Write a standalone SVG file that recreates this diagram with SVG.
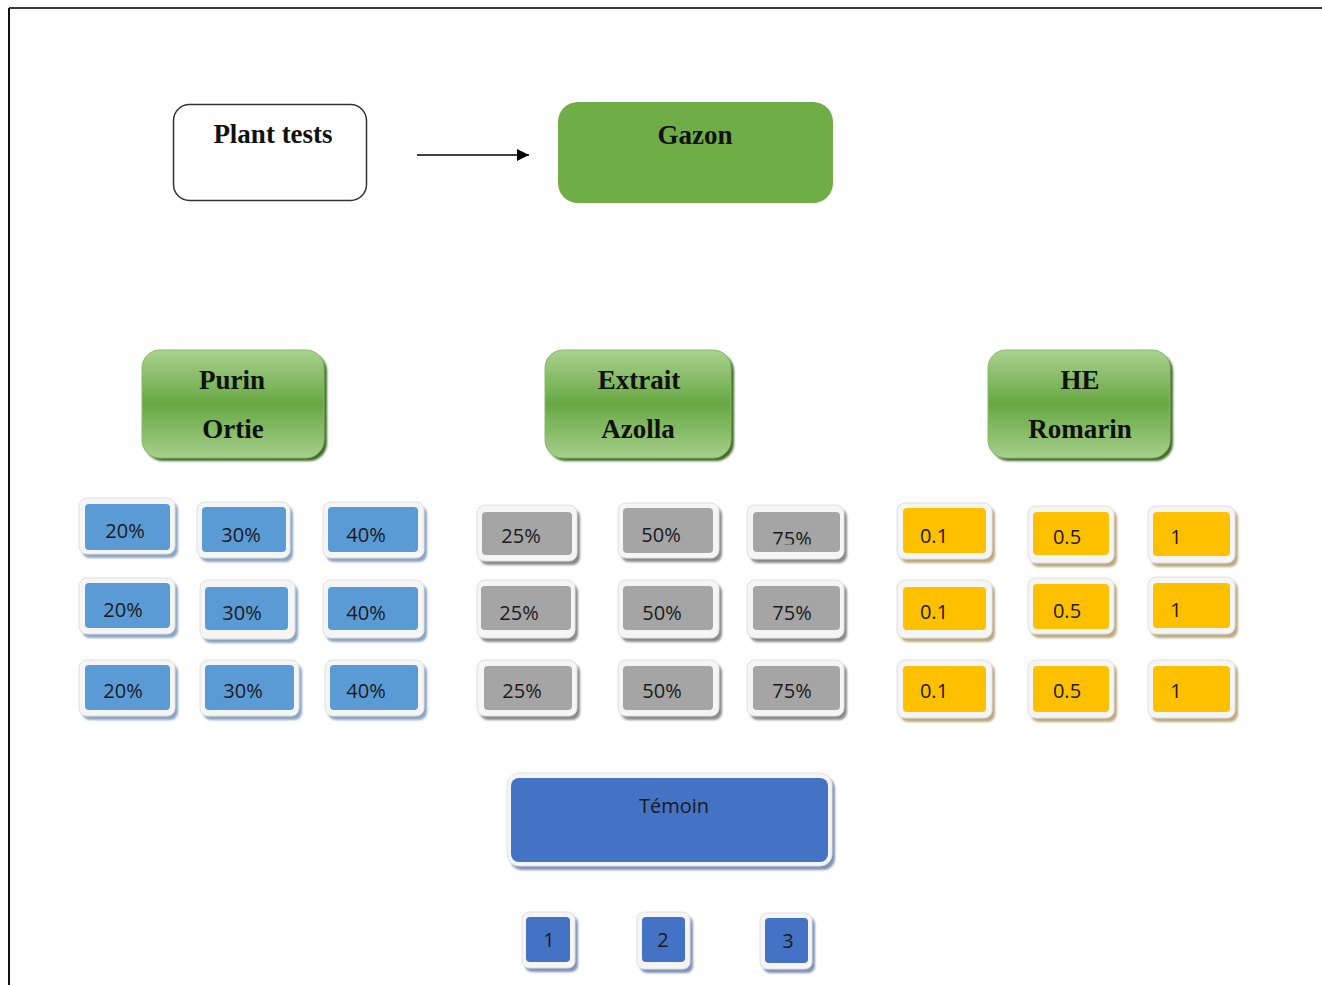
<svg xmlns="http://www.w3.org/2000/svg" width="1322" height="985" viewBox="0 0 1322 985">
<style>
.hdr{font-family:"Liberation Serif","Times New Roman",serif;font-weight:bold;font-size:27px;fill:#111;text-anchor:middle}
.lbl{font-family:"Open Sans","Liberation Sans",sans-serif;font-size:20px;fill:#1a1a1a;text-anchor:middle}
.frame{fill:#f5f5f5;stroke:#e0e0e0;stroke-width:1}
.sh{filter:url(#blur)}
.blue{fill:#5B9BD5}.shb{fill:#8aa4c2}
.grey{fill:#A5A5A5}.shg{fill:#8a8a8a}
.yel{fill:#FFC000}.shy{fill:#bcaa80}
.dblue{fill:#4472C4}.shd{fill:#8193b6}
.green{fill:url(#gg);stroke:#86bb66;stroke-width:1}
.gsh{fill:#3f6a2a}
</style>
<defs>
<linearGradient id="gg" x1="0" y1="0" x2="0" y2="1">
<stop offset="0" stop-color="#a9d28f"/>
<stop offset="0.5" stop-color="#68a843"/>
<stop offset="1" stop-color="#a6cf8b"/>
</linearGradient>
<filter id="blur" x="-10%" y="-10%" width="120%" height="130%"><feGaussianBlur stdDeviation="1"/></filter>
<marker id="arr" viewBox="0 0 10 10" refX="10" refY="5" markerWidth="12" markerHeight="12" markerUnits="userSpaceOnUse" orient="auto"><path d="M0,0 L10,5 L0,10 z" fill="#000"/></marker>
<clipPath id="clip75"><rect x="747" y="500" width="100" height="44.5"/></clipPath>
</defs>
<rect x="0" y="0" width="1322" height="985" fill="#fff"/>
<line x1="9" y1="8" x2="1322" y2="8" stroke="#3a3a3a" stroke-width="2"/>
<line x1="9" y1="8" x2="9" y2="985" stroke="#111" stroke-width="2"/>

<g id="connectors">
<line x1="417" y1="155" x2="529" y2="155" stroke="#000" stroke-width="1.5" marker-end="url(#arr)"/>
</g>

<g id="plant-tests">
<rect x="173.5" y="104.5" width="193" height="96" rx="16" fill="#fff" stroke="#333" stroke-width="1.5"/>
<text class="hdr" x="273" y="143">Plant tests</text>
</g>
<g id="gazon">
<rect x="558" y="102" width="275" height="101" rx="20" fill="#70AD47"/>
<text class="hdr" x="695" y="144">Gazon</text>
</g>

<g id="purin-ortie">
<rect class="gsh sh" x="145" y="353" width="182" height="108" rx="18"/>
<rect class="green" x="142" y="350" width="182" height="108" rx="18"/>
<text class="hdr" x="232" y="389">Purin</text>
<text class="hdr" x="233" y="438">Ortie</text>
</g>
<g id="extrait-azolla">
<rect class="gsh sh" x="548" y="353" width="186" height="108" rx="18"/>
<rect class="green" x="545" y="350" width="186" height="108" rx="18"/>
<text class="hdr" x="639" y="389">Extrait</text>
<text class="hdr" x="638" y="438">Azolla</text>
</g>
<g id="he-romarin">
<rect class="gsh sh" x="991" y="353" width="182" height="108" rx="18"/>
<rect class="green" x="988" y="350" width="182" height="108" rx="18"/>
<text class="hdr" x="1080" y="389">HE</text>
<text class="hdr" x="1080" y="438">Romarin</text>
</g>

<!-- Blue boxes -->
<g id="b11"><rect class="shb sh" x="82" y="502" width="96" height="56" rx="8"/><rect class="frame" x="79" y="498" width="96" height="56" rx="8"/><rect class="blue" x="85" y="504" width="85" height="46" rx="4"/><text class="lbl" x="125" y="538">20%</text></g>
<g id="b12"><rect class="shb sh" x="200" y="506" width="93" height="56" rx="8"/><rect class="frame" x="197" y="502" width="93" height="56" rx="8"/><rect class="blue" x="202" y="507" width="84" height="45" rx="4"/><text class="lbl" x="241" y="542">30%</text></g>
<g id="b13"><rect class="shb sh" x="326" y="506" width="101" height="56" rx="8"/><rect class="frame" x="323" y="502" width="101" height="56" rx="8"/><rect class="blue" x="328" y="507" width="90" height="45" rx="4"/><text class="lbl" x="366" y="542">40%</text></g>
<g id="b21"><rect class="shb sh" x="82" y="582" width="96" height="56" rx="8"/><rect class="frame" x="79" y="578" width="96" height="56" rx="8"/><rect class="blue" x="85" y="583" width="85" height="45" rx="4"/><text class="lbl" x="123" y="617">20%</text></g>
<g id="b22"><rect class="shb sh" x="203" y="584" width="95" height="59" rx="8"/><rect class="frame" x="200" y="580" width="95" height="59" rx="8"/><rect class="blue" x="205" y="587" width="83" height="43" rx="4"/><text class="lbl" x="242" y="620">30%</text></g>
<g id="b23"><rect class="shb sh" x="326" y="584" width="101" height="58" rx="8"/><rect class="frame" x="323" y="580" width="101" height="58" rx="8"/><rect class="blue" x="328" y="587" width="90" height="43" rx="4"/><text class="lbl" x="366" y="620">40%</text></g>
<g id="b31"><rect class="shb sh" x="82" y="664" width="96" height="56" rx="8"/><rect class="frame" x="79" y="660" width="96" height="56" rx="8"/><rect class="blue" x="85" y="665" width="85" height="45" rx="4"/><text class="lbl" x="123" y="698">20%</text></g>
<g id="b32"><rect class="shb sh" x="203" y="664" width="99" height="56" rx="8"/><rect class="frame" x="200" y="660" width="99" height="56" rx="8"/><rect class="blue" x="205" y="665" width="89" height="45" rx="4"/><text class="lbl" x="243" y="698">30%</text></g>
<g id="b33"><rect class="shb sh" x="328" y="664" width="99" height="56" rx="8"/><rect class="frame" x="325" y="660" width="99" height="56" rx="8"/><rect class="blue" x="330" y="665" width="88" height="45" rx="4"/><text class="lbl" x="366" y="698">40%</text></g>

<!-- Grey boxes -->
<g id="g11"><rect class="shg sh" x="480" y="509" width="100" height="56" rx="8"/><rect class="frame" x="477" y="505" width="100" height="56" rx="8"/><rect class="grey" x="482" y="512" width="90" height="43" rx="4"/><text class="lbl" x="521" y="543">25%</text></g>
<g id="g12"><rect class="shg sh" x="621" y="507" width="101" height="55" rx="8"/><rect class="frame" x="618" y="503" width="101" height="55" rx="8"/><rect class="grey" x="623" y="508" width="90" height="45" rx="4"/><text class="lbl" x="661" y="542">50%</text></g>
<g id="g13"><rect class="shg sh" x="750" y="509" width="97" height="54" rx="8"/><rect class="frame" x="747" y="505" width="97" height="54" rx="8"/><rect class="grey" x="753" y="512" width="87" height="40" rx="4"/><text class="lbl" x="792" y="546" clip-path="url(#clip75)">75%</text></g>
<g id="g21"><rect class="shg sh" x="480" y="584" width="98" height="58" rx="8"/><rect class="frame" x="477" y="580" width="98" height="58" rx="8"/><rect class="grey" x="481" y="586" width="90" height="44" rx="4"/><text class="lbl" x="519" y="620">25%</text></g>
<g id="g22"><rect class="shg sh" x="621" y="584" width="101" height="58" rx="8"/><rect class="frame" x="618" y="580" width="101" height="58" rx="8"/><rect class="grey" x="623" y="586" width="90" height="44" rx="4"/><text class="lbl" x="662" y="620">50%</text></g>
<g id="g23"><rect class="shg sh" x="750" y="584" width="97" height="58" rx="8"/><rect class="frame" x="747" y="580" width="97" height="58" rx="8"/><rect class="grey" x="753" y="586" width="87" height="44" rx="4"/><text class="lbl" x="792" y="620">75%</text></g>
<g id="g31"><rect class="shg sh" x="480" y="664" width="100" height="56" rx="8"/><rect class="frame" x="477" y="660" width="100" height="56" rx="8"/><rect class="grey" x="484" y="666" width="88" height="44" rx="4"/><text class="lbl" x="522" y="698">25%</text></g>
<g id="g32"><rect class="shg sh" x="621" y="664" width="101" height="56" rx="8"/><rect class="frame" x="618" y="660" width="101" height="56" rx="8"/><rect class="grey" x="623" y="666" width="90" height="44" rx="4"/><text class="lbl" x="662" y="698">50%</text></g>
<g id="g33"><rect class="shg sh" x="750" y="664" width="97" height="56" rx="8"/><rect class="frame" x="747" y="660" width="97" height="56" rx="8"/><rect class="grey" x="753" y="666" width="87" height="44" rx="4"/><text class="lbl" x="792" y="698">75%</text></g>

<!-- Yellow boxes -->
<g id="y11"><rect class="shy sh" x="900" y="507" width="95" height="56" rx="8"/><rect class="frame" x="897" y="503" width="95" height="56" rx="8"/><rect class="yel" x="903" y="508" width="83" height="45" rx="4"/><text class="lbl" x="934" y="543">0.1</text></g>
<g id="y12"><rect class="shy sh" x="1031" y="510" width="86" height="57" rx="8"/><rect class="frame" x="1028" y="506" width="86" height="57" rx="8"/><rect class="yel" x="1033" y="512" width="76" height="43" rx="4"/><text class="lbl" x="1067" y="544">0.5</text></g>
<g id="y13"><rect class="shy sh" x="1151" y="510" width="87" height="57" rx="8"/><rect class="frame" x="1148" y="506" width="87" height="57" rx="8"/><rect class="yel" x="1153" y="512" width="77" height="44" rx="4"/><text class="lbl" x="1176" y="544">1</text></g>
<g id="y21"><rect class="shy sh" x="900" y="584" width="95" height="58" rx="8"/><rect class="frame" x="897" y="580" width="95" height="58" rx="8"/><rect class="yel" x="903" y="587" width="83" height="43" rx="4"/><text class="lbl" x="934" y="619">0.1</text></g>
<g id="y22"><rect class="shy sh" x="1031" y="582" width="86" height="56" rx="8"/><rect class="frame" x="1028" y="578" width="86" height="56" rx="8"/><rect class="yel" x="1033" y="584" width="76" height="45" rx="4"/><text class="lbl" x="1067" y="618">0.5</text></g>
<g id="y23"><rect class="shy sh" x="1151" y="581" width="87" height="57" rx="8"/><rect class="frame" x="1148" y="577" width="87" height="57" rx="8"/><rect class="yel" x="1153" y="583" width="77" height="45" rx="4"/><text class="lbl" x="1176" y="617">1</text></g>
<g id="y31"><rect class="shy sh" x="900" y="664" width="95" height="58" rx="8"/><rect class="frame" x="897" y="660" width="95" height="58" rx="8"/><rect class="yel" x="903" y="666" width="83" height="46" rx="4"/><text class="lbl" x="934" y="698">0.1</text></g>
<g id="y32"><rect class="shy sh" x="1031" y="664" width="86" height="58" rx="8"/><rect class="frame" x="1028" y="660" width="86" height="58" rx="8"/><rect class="yel" x="1033" y="666" width="76" height="46" rx="4"/><text class="lbl" x="1067" y="698">0.5</text></g>
<g id="y33"><rect class="shy sh" x="1151" y="664" width="87" height="58" rx="8"/><rect class="frame" x="1148" y="660" width="87" height="58" rx="8"/><rect class="yel" x="1153" y="666" width="77" height="46" rx="4"/><text class="lbl" x="1176" y="698">1</text></g>

<!-- Témoin -->
<g id="temoin"><rect class="shd sh" x="510" y="777" width="325" height="93" rx="12"/><rect class="frame" x="507" y="773" width="325" height="93" rx="12"/><rect class="dblue" x="511" y="778" width="317" height="84" rx="8"/><text class="lbl" x="674" y="813">Témoin</text></g>
<g id="t1"><rect class="shd sh" x="525" y="916" width="53" height="56" rx="7"/><rect class="frame" x="522" y="912" width="53" height="56" rx="7"/><rect class="dblue" x="526" y="917" width="44" height="45" rx="4"/><text class="lbl" x="549" y="947">1</text></g>
<g id="t2"><rect class="shd sh" x="640" y="916" width="53" height="57" rx="7"/><rect class="frame" x="637" y="912" width="53" height="57" rx="7"/><rect class="dblue" x="642" y="917" width="43" height="45" rx="4"/><text class="lbl" x="663" y="947">2</text></g>
<g id="t3"><rect class="shd sh" x="763" y="917" width="52" height="56" rx="7"/><rect class="frame" x="760" y="913" width="52" height="56" rx="7"/><rect class="dblue" x="765" y="918" width="43" height="45" rx="4"/><text class="lbl" x="788" y="948">3</text></g>
</svg>
